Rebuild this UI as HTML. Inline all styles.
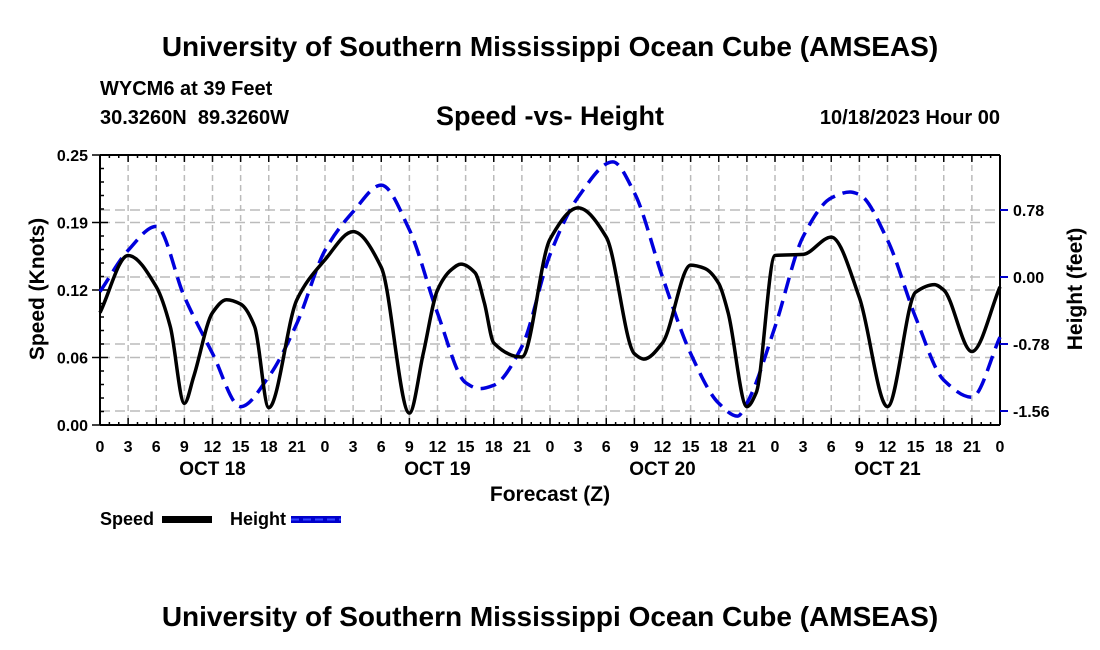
<!DOCTYPE html>
<html><head><meta charset="utf-8"><style>
body{margin:0;background:#fff;}
svg{display:block;font-family:"Liberation Sans",Arial,sans-serif;font-weight:bold;}
</style></head><body>
<svg id="chart" width="1100" height="650" viewBox="0 0 1100 650">
<text x="550" y="56" text-anchor="middle" font-size="28">University of Southern Mississippi Ocean Cube (AMSEAS)</text>
<text x="100" y="95" font-size="20">WYCM6 at 39 Feet</text>
<text x="100" y="124" font-size="20" xml:space="preserve">30.3260N  89.3260W</text>
<text x="550" y="125" text-anchor="middle" font-size="27">Speed -vs- Height</text>
<text x="1000" y="124" text-anchor="end" font-size="20">10/18/2023 Hour 00</text>
<g id="grid"></g><g id="axes"></g><g id="series"></g>
<text x="550" y="501" text-anchor="middle" font-size="21">Forecast (Z)</text>
<text transform="translate(44,289) rotate(-90)" text-anchor="middle" font-size="21">Speed (Knots)</text>
<text transform="translate(1082,289) rotate(-90)" text-anchor="middle" font-size="21">Height (feet)</text>
<g><text x="100" y="525" font-size="18">Speed</text><rect x="162" y="516" width="50" height="7" fill="#000"/></g>
<g><text x="230" y="525" font-size="18">Height</text><rect x="291" y="516" width="50" height="7" fill="#00c"/><line x1="291" y1="519.5" x2="341" y2="519.5" stroke="#3344ff" stroke-width="2" stroke-dasharray="8 4"/></g>
<text x="550" y="626" text-anchor="middle" font-size="28">University of Southern Mississippi Ocean Cube (AMSEAS)</text>
</svg>
<script>
const speedHours=[0,3,6,7.5,9,10,12,13.5,15,16.5,18,21,24,27,30,33,34.5,36,37.5,38.5,40,41,42,45,48,51,54,57,58,60,63,64.5,66,67,69,70,72,75,78,81,84,87,89,90,93,96];
const speedVals=[0.104,0.157,0.128,0.091,0.020,0.045,0.104,0.116,0.112,0.091,0.016,0.116,0.153,0.179,0.146,0.011,0.067,0.125,0.144,0.149,0.141,0.113,0.076,0.063,0.172,0.201,0.174,0.066,0.061,0.076,0.148,0.145,0.131,0.104,0.017,0.030,0.157,0.158,0.174,0.118,0.017,0.123,0.130,0.125,0.068,0.128];
const heightHours=[0,3,6,9,12,15,18,21,24,27,30,33,36,39,40.5,42,45,48,51,54.7,57,60,63,66,68,69,72,75,78,80,81,84,87,90,93,96];
const heightVals=[-0.17,0.31,0.59,-0.23,-0.89,-1.51,-1.16,-0.54,0.31,0.76,1.07,0.55,-0.42,-1.23,-1.30,-1.26,-0.81,0.26,0.93,1.34,0.98,0.0,-0.89,-1.47,-1.62,-1.47,-0.58,0.47,0.92,0.99,0.96,0.43,-0.47,-1.20,-1.40,-0.70];
const leftTicks=[0,0.0625,0.125,0.1875,0.25];
const leftTickLabels=["0.00","0.06","0.12","0.19","0.25"];
const rightTicks=[0.78,0,-0.78,-1.56];
const rightTickLabels=["0.78","0.00","-0.78","-1.56"];
const dayLabels=["OCT 18","OCT 19","OCT 20","OCT 21"];
const X0=100,X1=1000,YT=155,YB=425;
const xs=h=>X0+h*(X1-X0)/96;
const ys=v=>YB-v*(YB-YT)/0.25;
const yh=v=>277-v*67/0.78;
const NS="http://www.w3.org/2000/svg";
function mk(tag,attrs,parent){const e=document.createElementNS(NS,tag);for(const k in attrs)e.setAttribute(k,attrs[k]);parent.appendChild(e);return e;}
const grid=document.getElementById('grid'),axes=document.getElementById('axes'),series=document.getElementById('series');
for(let h=3;h<96;h+=3){const l=mk('line',{x1:xs(h),x2:xs(h),y1:YT,y2:YB,stroke:'#bbb','stroke-width':1.5,'stroke-dasharray':'6 4'},grid);

}
leftTicks.slice(1,4).forEach(v=>{const l=mk('line',{x1:X0,x2:X1,y1:ys(v),y2:ys(v),stroke:'#bbb','stroke-width':1.5,'stroke-dasharray':'10 5'},grid);

});
rightTicks.forEach(v=>{const l=mk('line',{x1:X0,x2:X1,y1:yh(v),y2:yh(v),stroke:'#bbb','stroke-width':1.5,'stroke-dasharray':'10 5'},grid);

});
[[X0,YT,X0,YB],[X1,YT,X1,YB],[X0,YT,X1,YT],[X0,YB,X1,YB]].forEach(c=>{const l=mk('line',{x1:c[0],y1:c[1],x2:c[2],y2:c[3],stroke:'#000','stroke-width':2},axes);

});
for(let h=0;h<=96;h++){const len=h%3==0?7:3;
mk('line',{x1:xs(h),x2:xs(h),y1:YB,y2:YB-len,stroke:'#000','stroke-width':1.5},axes);
mk('line',{x1:xs(h),x2:xs(h),y1:YT,y2:YT+len,stroke:'#000','stroke-width':1.5},axes);}
for(let i=0;i<=20;i++){const v=i*0.0125;mk('line',{x1:X0,x2:X0+(i%5==0?8:4),y1:ys(v),y2:ys(v),stroke:'#000','stroke-width':1.5},axes);}
leftTicks.forEach((v,i)=>{mk('line',{x1:X0-8,x2:X0,y1:ys(v),y2:ys(v),stroke:'#000','stroke-width':1.5},axes);
const t=mk('text',{x:88,y:ys(v)+6,'text-anchor':'end','font-size':16},axes);t.textContent=leftTickLabels[i];

});
rightTicks.forEach((v,i)=>{mk('line',{x1:X1,x2:X1+8,y1:yh(v),y2:yh(v),stroke:'#00c','stroke-width':2},axes);
const t=mk('text',{x:1013,y:yh(v)+6,'font-size':16},axes);t.textContent=rightTickLabels[i];

});
for(let h=0;h<=96;h+=3){const t=mk('text',{x:xs(h),y:452,'text-anchor':'middle','font-size':16},axes);t.textContent=String(h%24);

}
dayLabels.forEach((d,i)=>{const t=mk('text',{x:xs(12+24*i),y:475,'text-anchor':'middle','font-size':19},axes);t.textContent=d;

});
function monotone(pts){const n=pts.length,dx=[],m=[],t=[];
for(let i=0;i<n-1;i++){dx[i]=pts[i+1][0]-pts[i][0];m[i]=(pts[i+1][1]-pts[i][1])/dx[i];}
t[0]=m[0];t[n-1]=m[n-2];
for(let i=1;i<n-1;i++){if(m[i-1]*m[i]<=0)t[i]=0;else{const w1=2*dx[i]+dx[i-1],w2=dx[i]+2*dx[i-1];t[i]=(w1+w2)/(w1/m[i-1]+w2/m[i]);}}
let d=`M${pts[0][0]},${pts[0][1]}`;
for(let i=0;i<n-1;i++){const h=dx[i]/3;d+=`C${pts[i][0]+h},${pts[i][1]+t[i]*h} ${pts[i+1][0]-h},${pts[i+1][1]-t[i+1]*h} ${pts[i+1][0]},${pts[i+1][1]}`;}
return d;}
const hp=mk('path',{d:monotone(heightHours.map((h,i)=>[xs(h),yh(heightVals[i])])),fill:'none',stroke:'#0000dd','stroke-width':3.5,'stroke-dasharray':'16 8'},series);


const sp=mk('path',{d:monotone(speedHours.map((h,i)=>[xs(h),ys(speedVals[i])])),fill:'none',stroke:'#000','stroke-width':3.5},series);


</script>
</body></html>
